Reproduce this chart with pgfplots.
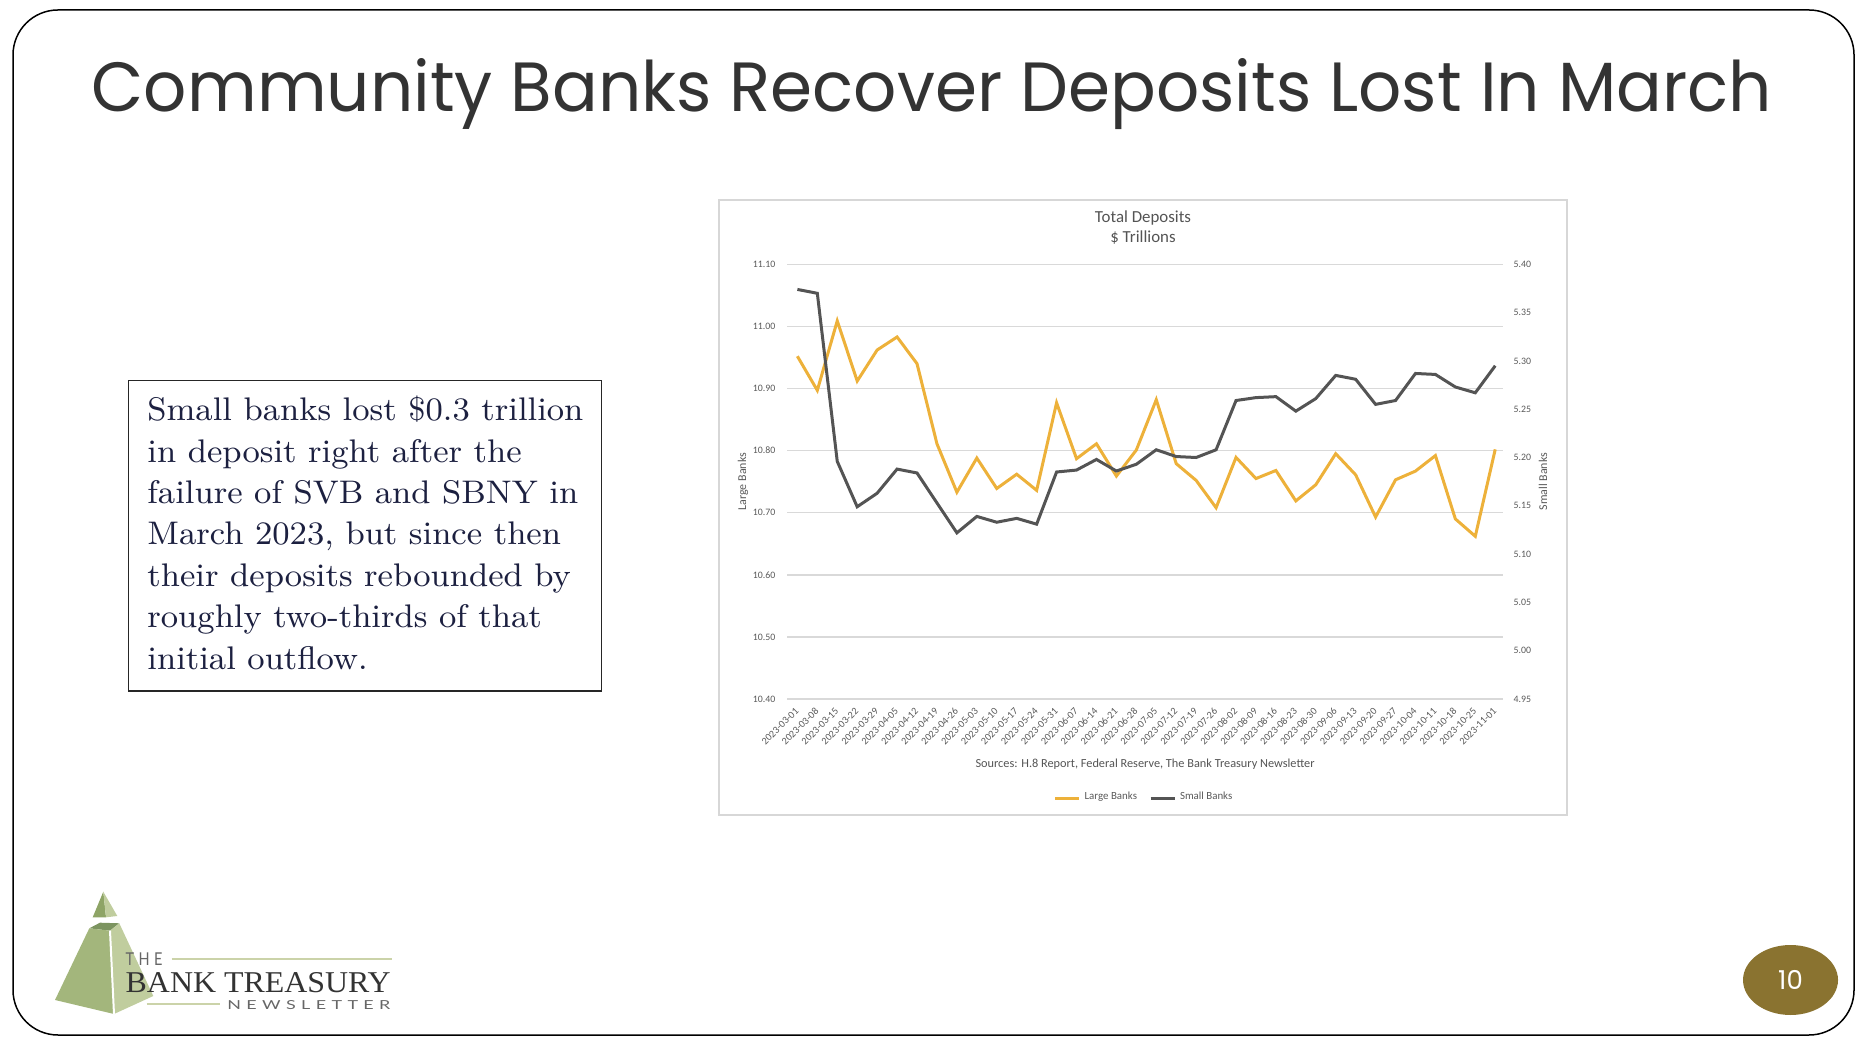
\documentclass[border=0pt]{standalone}
\usepackage{pgfplots}
\pgfplotsset{compat=1.18}
\usepackage{pgfplotstable}
\usepackage{fontspec}
\usepackage{graphicx}
\newfontfamily\chartfont{Carlito}
\newfontfamily\titlefont{Poppins}
\newfontfamily\logoserif{Liberation Serif}
\newfontfamily\logosans[LetterSpace=30]{Lato}
\definecolor{gold}{RGB}{237,177,58}
\definecolor{dgray}{RGB}{84,84,84}
\definecolor{gridgray}{RGB}{217,217,217}
\definecolor{lblgray}{RGB}{89,89,89}
\definecolor{boxgray}{RGB}{215,215,215}
\definecolor{navy}{RGB}{28,32,64}
\definecolor{titlegray}{RGB}{51,51,51}
\definecolor{olive}{RGB}{138,115,48}
\definecolor{pyrA}{RGB}{163,182,124}
\definecolor{pyrB}{RGB}{192,205,158}
\definecolor{pyrC}{RGB}{124,148,96}
\definecolor{pyrD}{RGB}{142,164,102}
\definecolor{logoline}{RGB}{203,211,169}

\pgfplotstableread{
idx large small
0 10.952 5.374
1 10.897 5.370
2 11.009 5.196
3 10.912 5.149
4 10.962 5.163
5 10.983 5.188
6 10.940 5.184
7 10.811 5.153
8 10.733 5.122
9 10.788 5.139
10 10.739 5.133
11 10.762 5.137
12 10.736 5.131
13 10.877 5.185
14 10.787 5.187
15 10.811 5.198
16 10.759 5.186
17 10.801 5.193
18 10.882 5.208
19 10.779 5.201
20 10.752 5.200
21 10.708 5.208
22 10.789 5.259
23 10.755 5.262
24 10.768 5.263
25 10.719 5.248
26 10.745 5.261
27 10.795 5.285
28 10.761 5.281
29 10.693 5.255
30 10.753 5.259
31 10.767 5.287
32 10.792 5.286
33 10.690 5.273
34 10.662 5.267
35 10.802 5.295
}\deposits

\begin{document}
\begin{tikzpicture}[x=0.1mm,y=0.1mm]
\path[use as bounding box] (0,0) rectangle (1867,1050);
% slide frame
\draw[line width=0.15mm, rounded corners=4.5mm] (13,15) rectangle (1854,1040);
% title
\node[anchor=base west, inner sep=0pt, text=titlegray] at (91,938)
  {\resizebox{168.0mm}{5.3mm}{\titlefont Community Banks Recover Deposits Lost In March}};
% text box
\draw[line width=0.15mm, color=black!85] (128.3,359) rectangle (601.7,669.3);
\node[anchor=base west, inner sep=0pt, text=navy] at (146.7,629.3)
  {\fontsize{9.3}{11.78}\selectfont\scalebox{1.03}[1]{\begin{tabular}[t]{@{}l@{}}
  Small banks lost \$0.3 trillion\\
  in deposit right after the\\
  failure of SVB and SBNY in\\
  March 2023, but since then\\
  their deposits rebounded by\\
  roughly two-thirds of that\\
  initial outflow.
  \end{tabular}}};
% chart box
\draw[color=boxgray, line width=0.2mm] (719,235) rectangle (1567,850);
\node[align=center, text=dgray, font=\chartfont\fontsize{4.8}{5.7}\selectfont] at (1143,822) {Total Deposits\\\$ Trillions};
\node[text=dgray, font=\chartfont\fontsize{3.5}{4}\selectfont] at (1145,286) {Sources: H.8 Report, Federal Reserve, The Bank Treasury Newsletter};
\coordinate (ax) at (787,351);
\begin{axis}[
  at={(ax)}, anchor=south west, scale only axis,
  width=71.6mm, height=43.47mm,
  xmin=-0.52, xmax=35.39, ymin=10.40, ymax=11.10,
  xtick={0,...,35},
  xticklabels={2023-03-01,2023-03-08,2023-03-15,2023-03-22,2023-03-29,2023-04-05,2023-04-12,2023-04-19,2023-04-26,2023-05-03,2023-05-10,2023-05-17,2023-05-24,2023-05-31,2023-06-07,2023-06-14,2023-06-21,2023-06-28,2023-07-05,2023-07-12,2023-07-19,2023-07-26,2023-08-02,2023-08-09,2023-08-16,2023-08-23,2023-08-30,2023-09-06,2023-09-13,2023-09-20,2023-09-27,2023-10-04,2023-10-11,2023-10-18,2023-10-25,2023-11-01},
  ytick={10.4,10.5,10.6,10.7,10.8,10.9,11.0,11.1},
  /pgf/number format/fixed, /pgf/number format/fixed zerofill, /pgf/number format/precision=2,
  /pgf/number format/assume math mode=true,
  ymajorgrids, grid style={gridgray, line width=0.15mm},
  axis line style={draw=none}, major tick length=0pt,
  tick label style={font=\chartfont\fontsize{2.8}{3}\selectfont, text=lblgray},
  xticklabel style={rotate=45, anchor=east, inner sep=0pt, font=\chartfont\fontsize{2.9}{3}\selectfont},
  yticklabel style={anchor=east, inner sep=0pt},
  xticklabel shift=1.0mm, yticklabel shift=1.1mm,
  ylabel={Large Banks},
  every axis y label/.style={at={(axis description cs:-0.0615,0.5)}, rotate=90, anchor=center, font=\chartfont\fontsize{3.4}{4}\selectfont, text=lblgray},
]
\addplot[gold, line width=0.3mm] table[x=idx, y=large]{\deposits};
\end{axis}
\begin{axis}[
  at={(ax)}, anchor=south west, scale only axis,
  width=71.6mm, height=43.47mm,
  xmin=-0.52, xmax=35.39, ymin=4.95, ymax=5.40,
  xtick=\empty,
  ytick={4.95,5.00,5.05,5.10,5.15,5.20,5.25,5.30,5.35,5.40},
  yticklabel pos=right,
  /pgf/number format/fixed, /pgf/number format/fixed zerofill, /pgf/number format/precision=2,
  /pgf/number format/assume math mode=true,
  axis line style={draw=none}, major tick length=0pt,
  tick label style={font=\chartfont\fontsize{2.8}{3}\selectfont, text=lblgray},
  yticklabel style={anchor=west, inner sep=0pt},
  yticklabel shift=1.0mm,
  ylabel={Small Banks},
  every axis y label/.style={at={(axis description cs:1.0559,0.5)}, rotate=90, anchor=center, font=\chartfont\fontsize{3.4}{4}\selectfont, text=lblgray},
  legend style={at={(axis description cs:0.5,-0.228)}, anchor=center, draw=none, fill=none, legend columns=2, font=\chartfont\fontsize{3.1}{4}\selectfont, text=lblgray, nodes={inner xsep=0.4mm}, /tikz/every even column/.append style={column sep=0.8mm}},
  legend image code/.code={\draw[#1] (0mm,0mm) -- (2.4mm,0mm);},
]
\addlegendimage{gold, line width=0.3mm}
\addlegendentry{Large Banks}
\addplot[dgray, line width=0.3mm] table[x=idx, y=small]{\deposits};
\addlegendentry{Small Banks}
\end{axis}
% logo
\fill[pyrD] (103.3,158.3) -- (92.7,132.7) -- (106,132.7) -- cycle;
\fill[pyrB] (103.3,158.3) -- (106,132.7) -- (117.3,134) -- cycle;
\fill[pyrC] (89.3,121.7) -- (100,127.3) -- (119.3,126.7) -- (110,119.3) -- cycle;
\fill[pyrA] (89.3,121.7) -- (110,119.3) -- (114,36) -- (55,50) -- cycle;
\fill[pyrB] (110,119.3) -- (119.3,126.7) -- (153.3,54) -- (114,36) -- cycle;
\draw[white, line width=0.2mm] (110,119.3) -- (114,36);
\node[anchor=base west, inner sep=0pt, text=black!60] at (125,84) {\resizebox{3.67mm}{1.27mm}{\logosans THE}};
\draw[logoline, line width=0.15mm] (171.7,91) -- (391.7,91);
\node[anchor=base west, inner sep=0pt, text=black!80] at (125,58) {\resizebox{26.5mm}{2.0mm}{\logoserif BANK TREASURY}};
\draw[logoline, line width=0.15mm] (146.7,46) -- (220,46);
\node[anchor=base west, inner sep=0pt, text=black!60] at (226.7,41) {\resizebox{16.3mm}{0.9mm}{\logosans NEWSLETTER}};
% page number
\fill[olive] (1790.5,70) ellipse [x radius=47.5, y radius=35];
\node[text=white, font=\titlefont\fontsize{7.4}{8}\selectfont] at (1790.5,70) {10};
\end{tikzpicture}
\end{document}
